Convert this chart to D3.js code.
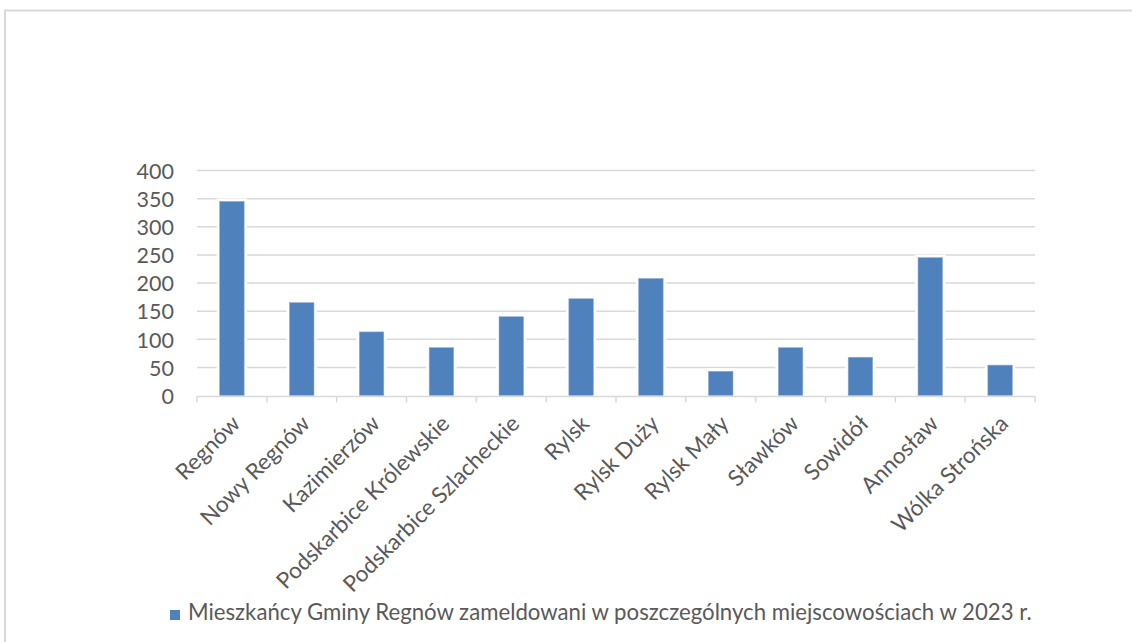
<!DOCTYPE html>
<html>
<head>
<meta charset="utf-8">
<script src="https://cdn.jsdelivr.net/npm/d3@7"></script>
<style>
  html, body { margin: 0; padding: 0; background: #ffffff; }
  svg { display: block; }
  text { font-family: "Lato", "Open Sans", sans-serif; fill: #595959; }
</style>
</head>
<body>
<svg id="chart" width="1132" height="642"></svg>
<script>
const categories = ["Regnów", "Nowy Regnów", "Kazimierzów", "Podskarbice Królewskie", "Podskarbice Szlacheckie", "Rylsk", "Rylsk Duży", "Rylsk Mały", "Sławków", "Sowidół", "Annosław", "Wólka Strońska"];
const values = [345, 165, 113, 85, 140, 172, 208, 43, 85, 68, 245, 54];
const yTicks = [0, 50, 100, 150, 200, 250, 300, 350, 400];
const seriesName = "Mieszkańcy Gminy Regnów zameldowani w poszczególnych miejscowościach w 2023 r.";

const svg = d3.select("#chart");
const plot = { left: 197, right: 1035, top: 170.5, bottom: 395.5 };
const barColor = "#4f81bd";
const gridColor = "#d9d9d9";

// outer chart border
svg.append("rect")
  .attr("x", 5).attr("y", 10.5)
  .attr("width", 1200).attr("height", 700)
  .attr("fill", "#fff")
  .attr("stroke", gridColor).attr("stroke-width", 2);

const x = d3.scaleBand().domain(categories).range([plot.left, plot.right])
  .paddingInner(0.65).paddingOuter(0.325);
const y = d3.scaleLinear().domain([0, 400]).range([plot.bottom, plot.top]);

// gridlines
svg.append("g").selectAll("line").data(yTicks.filter(d => d > 0)).join("line")
  .attr("x1", plot.left).attr("x2", plot.right)
  .attr("y1", d => y(d)).attr("y2", d => y(d))
  .attr("stroke", gridColor).attr("stroke-width", 1.5);

// y axis labels
const yAxis = d3.axisLeft(y).tickValues(yTicks).tickSize(0).tickPadding(0);
const gy = svg.append("g").attr("transform", `translate(174,0)`).call(yAxis);
gy.select(".domain").remove();
gy.selectAll("text").style("font-size", "21.5px").attr("fill", "#595959")
  .style("font-family", "Lato, sans-serif").attr("dy", "0.36em");

// bars: white halo then blue bar
const bars = svg.append("g");
bars.selectAll("rect.halo").data(values).join("rect").attr("class", "halo")
  .attr("x", (d, i) => x(categories[i]) - 3)
  .attr("y", d => y(d) - 3)
  .attr("width", x.bandwidth() + 6)
  .attr("height", d => plot.bottom - y(d) + 3)
  .attr("fill", "#ffffff");
bars.selectAll("rect.bar").data(values).join("rect").attr("class", "bar")
  .attr("x", (d, i) => x(categories[i]))
  .attr("y", d => y(d))
  .attr("width", x.bandwidth())
  .attr("height", d => plot.bottom - y(d))
  .attr("fill", barColor)
  .attr("stroke", "#8eaad3").attr("stroke-width", 0.6);

// x axis line and tick marks at band boundaries
const step = x.step();
const boundaries = categories.map(c => x(c) + x.bandwidth() / 2 - step / 2);
boundaries.push(plot.right);
const gx = svg.append("g");
gx.append("line").attr("x1", plot.left).attr("x2", plot.right)
  .attr("y1", plot.bottom + 1).attr("y2", plot.bottom + 1)
  .attr("stroke", gridColor).attr("stroke-width", 1.5);
gx.selectAll("line.tick").data(boundaries).join("line").attr("class", "tick")
  .attr("x1", d => d).attr("x2", d => d)
  .attr("y1", plot.bottom + 1).attr("y2", plot.bottom + 7)
  .attr("stroke", gridColor).attr("stroke-width", 1.5);

// rotated category labels
gx.selectAll("text").data(categories).join("text")
  .attr("transform", c => `translate(${x(c) + x.bandwidth() / 2 + 4},${plot.bottom + 24}) rotate(-45)`)
  .attr("text-anchor", "end")
  .attr("dy", "0.35em")
  .style("font-size", "22.5px")
  .text(c => c);

// legend
const lg = svg.append("g");
lg.append("rect").attr("x", 170).attr("y", 610).attr("width", 10).attr("height", 10).attr("fill", barColor);
lg.append("text").attr("x", 188).attr("y", 620).style("font-size", "22.2px").text(seriesName);
</script>
</body>
</html>
